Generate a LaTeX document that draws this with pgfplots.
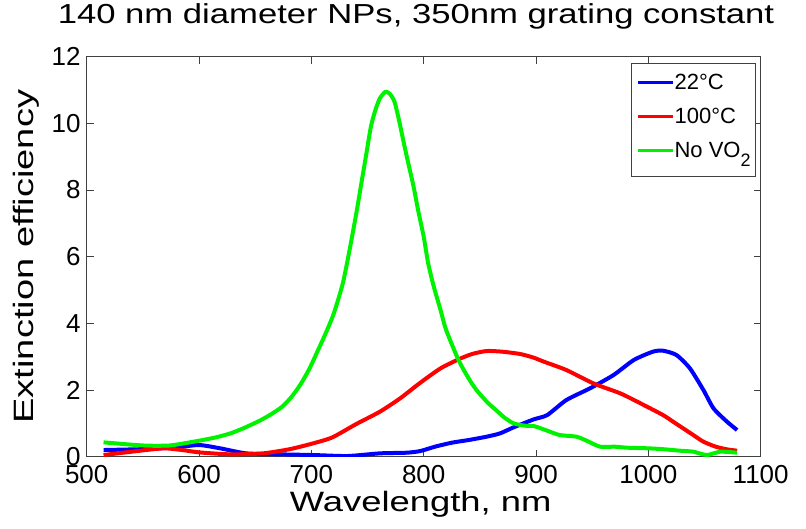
\documentclass[border=0pt]{standalone}
\usepackage{fontspec}
\setmainfont{Liberation Sans}
\usepackage{graphicx}
\usepackage{pgfplots}
\pgfplotsset{compat=1.18}
\usepackage{pgfplotstable}

% 22 C
\pgfplotstableread{
x y
515 0.20
553 0.23
580 0.28
600 0.35
619 0.25
642 0.10
672 0.07
702 0.05
732 0.02
761 0.10
785 0.12
797 0.17
810 0.30
825 0.42
840 0.50
856 0.60
868 0.70
880 0.88
898 1.12
910 1.25
927 1.70
948 2.05
969 2.45
987 2.90
1004 3.15
1013 3.18
1025 3.05
1037 2.65
1049 2.00
1058 1.45
1070 1.05
1079 0.80
}\cold

% 100 C
\pgfplotstableread{
x y
515 0.05
540 0.15
568 0.25
585 0.20
600 0.13
628 0.07
657 0.10
680 0.22
696 0.35
710 0.48
720 0.60
740 0.98
761 1.35
779 1.75
797 2.22
815 2.65
831 2.92
843 3.08
856 3.17
870 3.15
886 3.08
898 2.97
907 2.85
927 2.60
951 2.20
975 1.90
993 1.60
1013 1.25
1022 1.05
1031 0.85
1040 0.65
1049 0.45
1060 0.30
1070 0.22
1079 0.18
}\hot

% no VO2
\pgfplotstableread{
x y
515 0.43
540 0.36
555 0.33
575 0.34
600 0.48
615 0.58
628 0.70
640 0.86
654 1.08
664 1.27
674 1.50
682 1.78
690 2.15
698 2.62
706 3.20
713 3.72
720 4.30
728 5.20
734 6.20
740 7.30
745 8.30
749 9.10
753 9.90
757 10.40
761 10.75
766 10.95
770 10.88
774 10.65
778 10.10
783 9.30
787 8.70
791 8.10
795 7.40
800 6.60
804 5.80
809 5.10
815 4.40
820 3.80
831 2.90
840 2.35
847 2.00
857 1.62
865 1.38
872 1.17
880 1.00
890 0.93
898 0.92
910 0.78
921 0.65
936 0.60
945 0.48
957 0.30
970 0.30
981 0.27
1001 0.25
1015 0.22
1028 0.18
1040 0.15
1052 0.05
1064 0.15
1079 0.12
}\novo

\begin{document}
\begin{tikzpicture}
\begin{axis}[
    at={(0,0)}, anchor=south west,
    scale only axis, width=674pt, height=400pt,
    xmin=500, xmax=1100, ymin=0, ymax=12,
    xtick={500,600,...,1100}, ytick={0,2,...,12},
    tick align=inside, major tick length=7pt,
    axis line style={black!75, line width=0.8pt},
    every tick/.style={black!75, line width=0.8pt},
    /pgf/number format/assume math mode=true,
    /pgf/number format/1000 sep={},
    ticklabel style={font=\fontsize{26}{30}\selectfont, inner sep=0pt},
    xticklabel style={anchor=north, yshift=-8pt},
    yticklabel style={anchor=east, xshift=-6pt},
    title={\fontsize{27.5}{32}\selectfont\scalebox{1.26}[1]{140 nm diameter NPs, 350nm grating constant}},
    title style={at={(axis description cs:0.4886,1.069)}, anchor=base, inner sep=0pt},
    xlabel={\fontsize{28}{32}\selectfont\scalebox{1.30}[1]{Wavelength, nm}},
    xlabel style={at={(axis description cs:0.4955,-0.1375)}, anchor=base, inner sep=0pt},
    ylabel={\fontsize{28}{32}\selectfont\scalebox{1.36}[1]{Extinction efficiency}},
    ylabel style={at={(axis description cs:-0.0792,0.5)}, anchor=base, inner sep=0pt},
    legend style={at={(axis description cs:1,1)}, anchor=north east,
        xshift=-4.7pt, yshift=-6.3pt, draw=black!75, line width=0.8pt,
        font=\fontsize{22}{25}\selectfont, inner xsep=5pt, inner ysep=11pt,
        row sep=11pt,
        nodes={inner sep=0pt, text height=15pt, text depth=8pt, anchor=base west}},
    legend cell align=left,
    legend image code/.code={\draw[#1, line width=3pt] (0pt,7pt) -- (35pt,7pt);},
    every axis plot/.append style={line width=4pt, line join=round, smooth, tension=0.4},
]
\addplot[color={rgb,1:red,0;green,0;blue,1}] table[x=x,y=y] {\cold};
\addplot[color={rgb,1:red,1;green,0;blue,0}] table[x=x,y=y] {\hot};
\addplot[color={rgb,1:red,0;green,0.95;blue,0}] table[x=x,y=y] {\novo};
\legend{22°C, 100°C, No VO\raisebox{-9pt}{\fontsize{18}{20}\selectfont 2}}
\end{axis}
\pgfresetboundingbox
\useasboundingbox (-86.7pt,-72.3pt) rectangle (719.3pt,456.7pt);
\end{tikzpicture}
\end{document}
